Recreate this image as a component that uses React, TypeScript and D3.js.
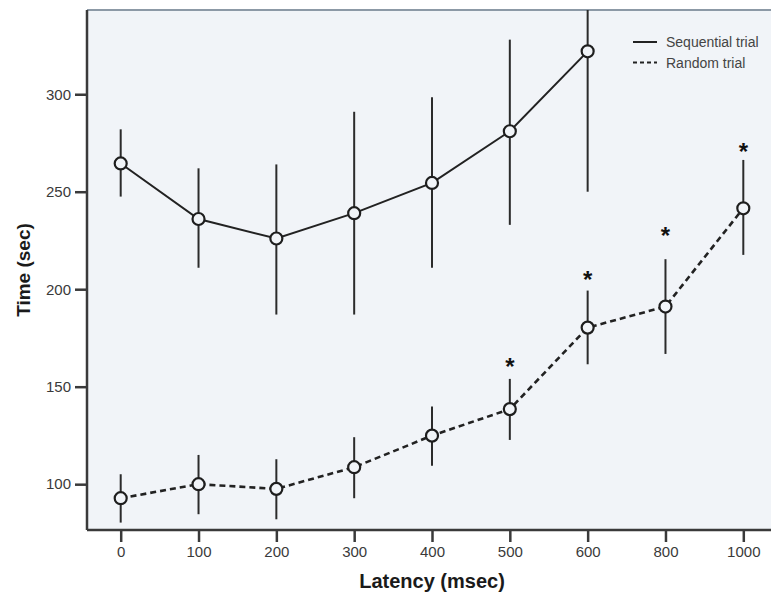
import React, { useEffect, useRef } from "react";
import * as d3 from "d3";

// latency categories (msec) shown on the x axis
const latencies = ["0", "100", "200", "300", "400", "500", "600", "800", "1000"];

// sequential trial: mean, upper and lower error bar (sec)
const seqMean = [264.5, 236, 226, 239, 254.5, 281, 322];
const seqHigh = [282, 262, 264, 291, 298.5, 328, 360];
const seqLow = [247.5, 211, 187, 187, 211, 233, 250];

// random trial
const rndMean = [92.8, 100, 97.6, 108.7, 124.9, 138.5, 180.3, 191.1, 241.5];
const rndHigh = [105.1, 115, 112.8, 124.1, 139.8, 154, 199.3, 215.4, 266.3];
const rndLow = [80.3, 84.6, 82, 92.8, 109.4, 122.7, 161.5, 166.8, 217.6];

// significance markers (category, value where the * sits)
const starCats = ["500", "600", "800", "1000"];
const starVals = [166.3, 211, 233.5, 276.6];

const yTicks = [100, 150, 200, 250, 300];

const W = 771;
const H = 597;
const margin = { left: 87, top: 10, bottom: 67 };
const font = "Liberation Sans, Arial, sans-serif";

type Pt = { cat: string; mean: number; hi: number; lo: number };

const App = () => {
  const ref = useRef<SVGSVGElement>(null);

  useEffect(() => {
    const svg = d3.select(ref.current!);
    svg.selectAll("*").remove();

    const plotBottom = H - margin.bottom;
    const x = d3.scalePoint<string>().domain(latencies).range([120.7, 743.3]);
    const step = x.step();
    const plotRight = (x("1000") ?? 0) + (x("0")! - margin.left);
    const y = d3.scaleLinear().domain([76.5, 343.2]).range([plotBottom, margin.top]);

    const seq: Pt[] = seqMean.map((m, i) => ({ cat: latencies[i], mean: m, hi: seqHigh[i], lo: seqLow[i] }));
    const rnd: Pt[] = rndMean.map((m, i) => ({ cat: latencies[i], mean: m, hi: rndHigh[i], lo: rndLow[i] }));

    svg.append("rect").attr("width", W).attr("height", H).attr("fill", "#ffffff");

    svg
      .append("defs")
      .append("clipPath")
      .attr("id", "plot-clip")
      .append("rect")
      .attr("x", margin.left)
      .attr("y", margin.top)
      .attr("width", plotRight - margin.left)
      .attr("height", plotBottom - margin.top);

    svg
      .append("rect")
      .attr("x", margin.left)
      .attr("y", margin.top)
      .attr("width", plotRight - margin.left)
      .attr("height", plotBottom - margin.top)
      .attr("fill", "#f1f4f8");

    // top frame
    svg
      .append("line")
      .attr("x1", margin.left)
      .attr("x2", plotRight)
      .attr("y1", margin.top)
      .attr("y2", margin.top)
      .attr("stroke", "#8c99a6")
      .attr("stroke-width", 2);

    const plot = svg.append("g").attr("clip-path", "url(#plot-clip)");

    const line = d3
      .line<Pt>()
      .x((d) => x(d.cat) ?? 0)
      .y((d) => y(d.mean));

    const drawSeries = (data: Pt[], dashed: boolean) => {
      const g = plot.append("g");
      g.selectAll(".err")
        .data(data)
        .enter()
        .append("line")
        .attr("x1", (d) => x(d.cat) ?? 0)
        .attr("x2", (d) => x(d.cat) ?? 0)
        .attr("y1", (d) => y(d.hi))
        .attr("y2", (d) => y(d.lo))
        .attr("stroke", "#2b2b2b")
        .attr("stroke-width", 2);
      g.append("path")
        .datum(data)
        .attr("d", line)
        .attr("fill", "none")
        .attr("stroke", "#222")
        .attr("stroke-width", dashed ? 2.6 : 2)
        .attr("stroke-dasharray", dashed ? "6,4" : null);
      g.selectAll(".pt")
        .data(data)
        .enter()
        .append("circle")
        .attr("cx", (d) => x(d.cat) ?? 0)
        .attr("cy", (d) => y(d.mean))
        .attr("r", 6)
        .attr("fill", "#f1f4f8")
        .attr("stroke", "#1e1e1e")
        .attr("stroke-width", 2.2);
    };

    drawSeries(seq, false);
    drawSeries(rnd, true);

    // asterisks
    plot
      .selectAll(".star")
      .data(starCats)
      .enter()
      .append("text")
      .attr("x", (d) => x(d) ?? 0)
      .attr("y", (_, i) => y(starVals[i]))
      .attr("dy", "0.85em")
      .attr("text-anchor", "middle")
      .attr("font-family", font)
      .attr("font-size", 24)
      .attr("font-weight", "bold")
      .attr("fill", "#111")
      .text("*");

    // axes
    const axisColor = "#3a3a3a";
    const xAxis = svg
      .append("g")
      .attr("transform", `translate(0,${plotBottom})`)
      .call(d3.axisBottom(x).tickSize(12).tickPadding(4).tickSizeOuter(0));
    xAxis.select(".domain").remove();
    xAxis
      .append("line")
      .attr("x1", margin.left)
      .attr("x2", plotRight)
      .attr("stroke", axisColor)
      .attr("stroke-width", 2.5);

    const yAxis = svg
      .append("g")
      .attr("transform", `translate(${margin.left},0)`)
      .call(d3.axisLeft(y).tickValues(yTicks).tickSize(12).tickPadding(4));
    yAxis.select(".domain").remove();
    yAxis
      .append("line")
      .attr("y1", margin.top)
      .attr("y2", plotBottom)
      .attr("stroke", axisColor)
      .attr("stroke-width", 2.5);

    [xAxis, yAxis].forEach((a) => {
      a.selectAll(".tick line").attr("stroke", axisColor).attr("stroke-width", 2.5);
      a.selectAll(".tick text")
        .attr("fill", "#3a3a3a")
        .attr("font-size", 15)
        .attr("font-family", font);
    });

    svg
      .append("text")
      .attr("x", (x("400")! + x("500")!) / 2 - step * 0.5)
      .attr("y", 588)
      .attr("text-anchor", "middle")
      .attr("font-family", font)
      .attr("font-size", 20)
      .attr("font-weight", "bold")
      .attr("fill", "#1a1a1a")
      .text("Latency (msec)");

    svg
      .append("text")
      .attr("transform", `translate(30,${(margin.top + plotBottom) / 2}) rotate(-90)`)
      .attr("text-anchor", "middle")
      .attr("font-family", font)
      .attr("font-size", 19)
      .attr("font-weight", "bold")
      .attr("fill", "#1a1a1a")
      .text("Time (sec)");

    // legend
    const legendItems = [
      { label: "Sequential trial", dash: null as string | null },
      { label: "Random trial", dash: "4,3" },
    ];
    const lg = svg.append("g").attr("transform", "translate(633,42)");
    legendItems.forEach((it, i) => {
      lg.append("line")
        .attr("x1", 0)
        .attr("x2", 24)
        .attr("y1", i * 20.6)
        .attr("y2", i * 20.6)
        .attr("stroke", "#222")
        .attr("stroke-width", 2)
        .attr("stroke-dasharray", it.dash);
      lg.append("text")
        .attr("x", 33)
        .attr("y", i * 20.6)
        .attr("dy", "0.35em")
        .attr("font-family", font)
        .attr("font-size", 14)
        .attr("fill", "#444")
        .text(it.label);
    });
  }, []);

  return (
    <svg
      ref={ref}
      width={W}
      height={H}
      style={{ position: "absolute", left: 0, top: 0 }}
    />
  );
};

export default App;
